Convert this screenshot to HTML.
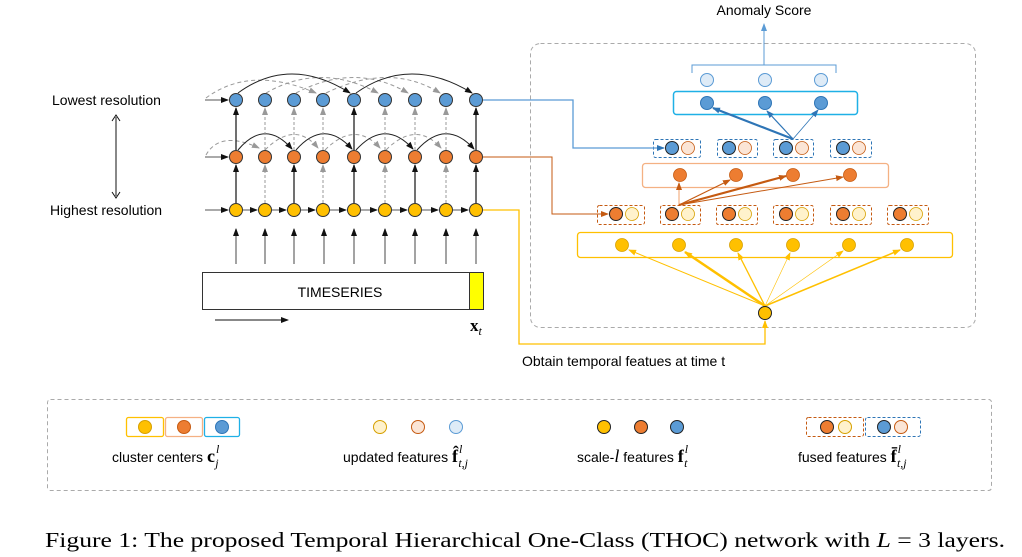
<!DOCTYPE html>
<html><head><meta charset="utf-8"><style>
html,body{margin:0;padding:0;background:#fff}
svg{display:block}
</style></head><body>
<svg width="1022" height="557" viewBox="0 0 1022 557" xmlns="http://www.w3.org/2000/svg" font-family="Liberation Sans, sans-serif">
<defs>
<marker id="ak" markerWidth="8" markerHeight="8" refX="7" refY="4" orient="auto" markerUnits="userSpaceOnUse"><path d="M0,1 L8,4 L0,7z" fill="#111"/></marker>
<marker id="ag" markerWidth="8" markerHeight="8" refX="7" refY="4" orient="auto" markerUnits="userSpaceOnUse"><path d="M0,1 L8,4 L0,7z" fill="#999"/></marker>
<marker id="ab" markerWidth="8" markerHeight="8" refX="7" refY="4" orient="auto" markerUnits="userSpaceOnUse"><path d="M0,1 L8,4 L0,7z" fill="#2e75b6"/></marker>
<marker id="ao" markerWidth="8" markerHeight="8" refX="7" refY="4" orient="auto" markerUnits="userSpaceOnUse"><path d="M0,1 L8,4 L0,7z" fill="#c55a11"/></marker>
<marker id="ay" markerWidth="8" markerHeight="8" refX="7" refY="4" orient="auto" markerUnits="userSpaceOnUse"><path d="M0,1 L8,4 L0,7z" fill="#ffc000"/></marker>
<marker id="al" markerWidth="8" markerHeight="8" refX="7" refY="4" orient="auto" markerUnits="userSpaceOnUse"><path d="M0,1 L8,4 L0,7z" fill="#5b9bd5"/></marker>
</defs>

<text x="52" y="105" font-size="14">Lowest resolution</text>
<text x="50" y="215" font-size="14">Highest resolution</text>
<line x1="116" y1="117" x2="116" y2="196" stroke="#111" stroke-width="1"/>
<path d="M112,121 L116,115 L120,121 M112,192 L116,198 L120,192" fill="none" stroke="#111" stroke-width="1"/>

<g stroke="#555" stroke-width="1" marker-end="url(#ak)">
<line x1="205" y1="100" x2="228" y2="100"/>
<line x1="205" y1="157" x2="228" y2="157"/>
<line x1="205" y1="210" x2="228" y2="210"/>
</g>

<g fill="none" stroke="#999" stroke-width="1" stroke-dasharray="4,3" marker-end="url(#ag)">
<path d="M206,155 Q220,130 259,148"/>
<path d="M265,150 Q295,120 318,148"/>
<path d="M325,150 Q355,120 380,148"/>
<path d="M386,150 Q416,120 441,148"/>
</g>
<g fill="none" stroke="#222" stroke-width="1" marker-end="url(#ak)">
<path d="M238,150 Q265,118 292,149"/>
<path d="M296,150 Q324,118 352,149"/>
<path d="M356,150 Q385,118 413,149"/>
<path d="M417,150 Q446,118 474,149"/>
</g>
<g fill="none" stroke="#999" stroke-width="1" stroke-dasharray="4,3" marker-end="url(#ag)">
<path d="M206,98 Q250,65 316,93"/>
<path d="M266,93 Q320,62 378,93"/>
<path d="M296,93 Q355,62 408,93"/>
<path d="M326,93 Q390,62 440,93"/>
</g>
<g fill="none" stroke="#222" stroke-width="1" marker-end="url(#ak)">
<path d="M238,93 Q290,55 350,93"/>
<path d="M356,93 Q410,55 472,93"/>
</g>

<g stroke="#111" stroke-width="1.2" marker-end="url(#ak)">
<line x1="236" y1="203" x2="236" y2="165"/><line x1="294" y1="203" x2="294" y2="165"/>
<line x1="354" y1="203" x2="354" y2="165"/><line x1="415" y1="203" x2="415" y2="165"/>
<line x1="476" y1="203" x2="476" y2="165"/>
<line x1="236" y1="150" x2="236" y2="108"/><line x1="354" y1="150" x2="354" y2="108"/>
<line x1="476" y1="150" x2="476" y2="108"/>
</g>
<g stroke="#999" stroke-width="1" stroke-dasharray="3,2" marker-end="url(#ag)">
<line x1="265" y1="203" x2="265" y2="165"/><line x1="323" y1="203" x2="323" y2="165"/>
<line x1="385" y1="203" x2="385" y2="165"/><line x1="446" y1="203" x2="446" y2="165"/>
<line x1="265" y1="150" x2="265" y2="108"/><line x1="294" y1="150" x2="294" y2="108"/>
<line x1="323" y1="150" x2="323" y2="108"/><line x1="385" y1="150" x2="385" y2="108"/>
<line x1="415" y1="150" x2="415" y2="108"/><line x1="446" y1="150" x2="446" y2="108"/>
</g>
<g stroke="#555" stroke-width="1" marker-end="url(#ak)">
<line x1="243" y1="210" x2="257" y2="210"/><line x1="272" y1="210" x2="286" y2="210"/>
<line x1="301" y1="210" x2="315" y2="210"/><line x1="330" y1="210" x2="346" y2="210"/>
<line x1="361" y1="210" x2="377" y2="210"/><line x1="392" y1="210" x2="407" y2="210"/>
<line x1="422" y1="210" x2="438" y2="210"/><line x1="453" y1="210" x2="468" y2="210"/>
</g>
<g stroke="#666" stroke-width="1.2" marker-end="url(#ak)">
<line x1="236" y1="264" x2="236" y2="229"/><line x1="265" y1="264" x2="265" y2="229"/>
<line x1="294" y1="264" x2="294" y2="229"/><line x1="324" y1="264" x2="324" y2="229"/>
<line x1="354" y1="264" x2="354" y2="229"/><line x1="385" y1="264" x2="385" y2="229"/>
<line x1="415" y1="264" x2="415" y2="229"/><line x1="446" y1="264" x2="446" y2="229"/>
<line x1="476" y1="264" x2="476" y2="229"/>
</g>

<g stroke="#333" stroke-width="1">
<g fill="#5b9bd5">
<circle cx="236" cy="100" r="6.5"/><circle cx="265" cy="100" r="6.5"/><circle cx="294" cy="100" r="6.5"/><circle cx="323" cy="100" r="6.5"/><circle cx="354" cy="100" r="6.5"/><circle cx="385" cy="100" r="6.5"/><circle cx="415" cy="100" r="6.5"/><circle cx="446" cy="100" r="6.5"/><circle cx="476" cy="100" r="6.5"/>
</g>
<g fill="#ed7d31">
<circle cx="236" cy="157" r="6.5"/><circle cx="265" cy="157" r="6.5"/><circle cx="294" cy="157" r="6.5"/><circle cx="323" cy="157" r="6.5"/><circle cx="354" cy="157" r="6.5"/><circle cx="385" cy="157" r="6.5"/><circle cx="415" cy="157" r="6.5"/><circle cx="446" cy="157" r="6.5"/><circle cx="476" cy="157" r="6.5"/>
</g>
<g fill="#ffc000">
<circle cx="236" cy="210" r="6.5"/><circle cx="265" cy="210" r="6.5"/><circle cx="294" cy="210" r="6.5"/><circle cx="323" cy="210" r="6.5"/><circle cx="354" cy="210" r="6.5"/><circle cx="385" cy="210" r="6.5"/><circle cx="415" cy="210" r="6.5"/><circle cx="446" cy="210" r="6.5"/><circle cx="476" cy="210" r="6.5"/>
</g>
</g>

<rect x="202.5" y="272.5" width="281" height="37" fill="#fff" stroke="#333"/>
<rect x="469.5" y="272.5" width="14" height="37" fill="#ffff00" stroke="#333"/>
<text x="340" y="297" font-size="14" text-anchor="middle">TIMESERIES</text>
<line x1="215" y1="320" x2="288" y2="320" stroke="#111" marker-end="url(#ak)"/>
<text x="470" y="331" font-family="Liberation Serif, serif" font-size="17" font-weight="bold">x<tspan font-weight="normal" font-style="italic" font-size="12" dy="4">t</tspan></text>

<rect x="530.5" y="43.5" width="445" height="284" rx="10" fill="none" stroke="#aaa" stroke-dasharray="4,3"/>
<text x="764" y="15" font-size="14" text-anchor="middle">Anomaly Score</text>
<line x1="764" y1="65" x2="764" y2="24" stroke="#5b9bd5" marker-end="url(#al)"/>
<path d="M692,73 L692,65 L836,65 L836,73" fill="none" stroke="#5b9bd5"/>

<g stroke="#5b9bd5" fill="#deebf7"><circle cx="707" cy="80" r="6.5"/><circle cx="765" cy="80" r="6.5"/><circle cx="821" cy="80" r="6.5"/></g>
<rect x="673.5" y="91.5" width="184" height="23" rx="3" fill="none" stroke="#1fb0e6" stroke-width="1.5"/>
<g stroke="#2e75b6" fill="#5b9bd5"><circle cx="707" cy="103" r="6.5"/><circle cx="765" cy="103" r="6.5"/><circle cx="821" cy="103" r="6.5"/></g>
<g stroke="#2e75b6" marker-end="url(#ab)">
<line x1="793" y1="139" x2="713" y2="108" stroke-width="2.2"/>
<line x1="793" y1="139" x2="767" y2="111" stroke-width="1.2"/>
<line x1="793" y1="139" x2="818" y2="110" stroke-width="0.8"/>
</g>

<g fill="none" stroke="#2e75b6" stroke-dasharray="3,2">
<rect x="653.5" y="139.5" width="47" height="18" rx="2"/><rect x="717.5" y="139.5" width="40" height="18" rx="2"/>
<rect x="773.5" y="139.5" width="40" height="18" rx="2"/><rect x="830.5" y="139.5" width="41" height="18" rx="2"/>
</g>
<g stroke="#222" fill="#5b9bd5"><circle cx="672" cy="148" r="6.5"/><circle cx="729" cy="148" r="6.5"/><circle cx="786" cy="148" r="6.5"/><circle cx="843" cy="148" r="6.5"/></g>
<g stroke="#c55a11" fill="#fbe5d6" stroke-width="0.8"><circle cx="688" cy="148" r="6.5"/><circle cx="745" cy="148" r="6.5"/><circle cx="802" cy="148" r="6.5"/><circle cx="859" cy="148" r="6.5"/></g>

<rect x="642.5" y="163.5" width="246" height="24" rx="3" fill="none" stroke="#f4b183" stroke-width="1.3"/>
<g stroke="#c55a11" fill="#ed7d31" stroke-width="0.8"><circle cx="680" cy="175" r="6.5"/><circle cx="736" cy="175" r="6.5"/><circle cx="793" cy="175" r="6.5"/><circle cx="850" cy="175" r="6.5"/></g>
<g stroke="#c55a11">
<line x1="679" y1="205" x2="679" y2="183" stroke="#f4b183" stroke-width="1.2" marker-end="url(#ao)"/>
<line x1="679" y1="205" x2="730" y2="180" stroke-width="1.2" marker-end="url(#ao)"/>
<line x1="679" y1="205" x2="786" y2="176" stroke-width="2.2" marker-end="url(#ao)"/>
<line x1="679" y1="205" x2="843" y2="177" stroke-width="1" marker-end="url(#ao)"/>
</g>

<g fill="none" stroke="#c55a11" stroke-dasharray="3,2">
<rect x="597.5" y="205.5" width="47" height="19" rx="2"/><rect x="660.5" y="205.5" width="40" height="19" rx="2"/>
<rect x="716.5" y="205.5" width="41" height="19" rx="2"/><rect x="773.5" y="205.5" width="40" height="19" rx="2"/>
<rect x="830.5" y="205.5" width="41" height="19" rx="2"/><rect x="887.5" y="205.5" width="41" height="19" rx="2"/>
</g>
<g stroke="#222" fill="#ed7d31"><circle cx="616" cy="214" r="6.5"/><circle cx="672" cy="214" r="6.5"/><circle cx="729" cy="214" r="6.5"/><circle cx="786" cy="214" r="6.5"/><circle cx="843" cy="214" r="6.5"/><circle cx="900" cy="214" r="6.5"/></g>
<g stroke="#d6a000" fill="#fff2cc" stroke-width="0.8"><circle cx="632" cy="214" r="6.5"/><circle cx="688" cy="214" r="6.5"/><circle cx="745" cy="214" r="6.5"/><circle cx="802" cy="214" r="6.5"/><circle cx="859" cy="214" r="6.5"/><circle cx="916" cy="214" r="6.5"/></g>

<rect x="577.5" y="232.5" width="375" height="25" rx="3" fill="none" stroke="#ffc000" stroke-width="1.3"/>
<g stroke="#d6a000" fill="#ffc000" stroke-width="0.8"><circle cx="622" cy="245" r="6.5"/><circle cx="679" cy="245" r="6.5"/><circle cx="736" cy="245" r="6.5"/><circle cx="793" cy="245" r="6.5"/><circle cx="849" cy="245" r="6.5"/><circle cx="907" cy="245" r="6.5"/></g>
<g stroke="#ffc000">
<line x1="765" y1="306" x2="629" y2="250" stroke-width="1" marker-end="url(#ay)"/>
<line x1="765" y1="306" x2="685" y2="252" stroke-width="2.5" marker-end="url(#ay)"/>
<line x1="765" y1="306" x2="738" y2="253" stroke-width="1.3" marker-end="url(#ay)"/>
<line x1="765" y1="306" x2="790" y2="253" stroke-width="0.6" marker-end="url(#ay)"/>
<line x1="765" y1="306" x2="843" y2="251" stroke-width="0.6" marker-end="url(#ay)"/>
<line x1="765" y1="306" x2="900" y2="250" stroke-width="1.5" marker-end="url(#ay)"/>
</g>
<circle cx="765" cy="313" r="6.5" fill="#ffc000" stroke="#222"/>

<polyline points="483,100 573,100 573,148 664,148" fill="none" stroke="#5b9bd5" stroke-width="1.3" marker-end="url(#ab)"/>
<polyline points="483,157 552,157 552,214 608,214" fill="none" stroke="#c55a11" stroke-width="1" marker-end="url(#ao)"/>
<polyline points="483,210 519,210 519,344 765,344 765,321" fill="none" stroke="#ffc000" stroke-width="1.3" marker-end="url(#ay)"/>
<text x="522" y="366" font-size="14">Obtain temporal featues at time t</text>

<rect x="47.5" y="399.5" width="944" height="91" rx="3" fill="none" stroke="#aaa" stroke-dasharray="4,3"/>
<rect x="126.5" y="417.5" width="37" height="19" rx="2" fill="none" stroke="#ffc000" stroke-width="1.3"/>
<rect x="165.5" y="417.5" width="37" height="19" rx="2" fill="none" stroke="#f4b183" stroke-width="1.3"/>
<rect x="204.5" y="417.5" width="35" height="19" rx="2" fill="none" stroke="#1fb0e6" stroke-width="1.3"/>
<circle cx="145" cy="427" r="6.5" fill="#ffc000" stroke="#d6a000"/>
<circle cx="184" cy="427" r="6.5" fill="#ed7d31" stroke="#c55a11"/>
<circle cx="222" cy="427" r="6.5" fill="#5b9bd5" stroke="#2e75b6"/>
<text x="112" y="462" font-size="14">cluster centers <tspan font-family="Liberation Serif, serif" font-weight="bold" font-size="18">c</tspan><tspan font-family="Liberation Serif, serif" font-style="italic" font-size="12" dx="1" dy="-9">l</tspan><tspan font-family="Liberation Serif, serif" font-style="italic" font-size="12" dx="-4" dy="14">j</tspan></text>

<circle cx="380" cy="427" r="6.5" fill="#fff2cc" stroke="#d6a000"/>
<circle cx="418" cy="427" r="6.5" fill="#fbe5d6" stroke="#c55a11"/>
<circle cx="456" cy="427" r="6.5" fill="#deebf7" stroke="#5b9bd5"/>
<text x="343" y="462" font-size="14">updated features <tspan font-family="Liberation Serif, serif" font-weight="bold" font-size="18">f̂</tspan><tspan font-family="Liberation Serif, serif" font-style="italic" font-size="12" dx="1" dy="-9">l</tspan><tspan font-family="Liberation Serif, serif" font-style="italic" font-size="12" dx="-4" dy="14">t,j</tspan></text>

<circle cx="604" cy="427" r="6.5" fill="#ffc000" stroke="#222"/>
<circle cx="641" cy="427" r="6.5" fill="#ed7d31" stroke="#222"/>
<circle cx="677" cy="427" r="6.5" fill="#5b9bd5" stroke="#222"/>
<text x="577" y="462" font-size="14">scale-<tspan font-family="Liberation Serif, serif" font-style="italic" font-size="18">l</tspan> features <tspan font-family="Liberation Serif, serif" font-weight="bold" font-size="18">f</tspan><tspan font-family="Liberation Serif, serif" font-style="italic" font-size="12" dx="1" dy="-9">l</tspan><tspan font-family="Liberation Serif, serif" font-style="italic" font-size="12" dx="-4" dy="14">t</tspan></text>

<rect x="806.5" y="417.5" width="57" height="19" rx="2" fill="none" stroke="#c55a11" stroke-dasharray="3,2"/>
<rect x="865.5" y="417.5" width="55" height="19" rx="2" fill="none" stroke="#2e75b6" stroke-dasharray="3,2"/>
<circle cx="827" cy="427" r="6.5" fill="#ed7d31" stroke="#222"/>
<circle cx="845" cy="427" r="6.5" fill="#fff2cc" stroke="#d6a000"/>
<circle cx="884" cy="427" r="6.5" fill="#5b9bd5" stroke="#222"/>
<circle cx="901" cy="427" r="6.5" fill="#fbe5d6" stroke="#c55a11"/>
<text x="798" y="462" font-size="14">fused features  <tspan font-family="Liberation Serif, serif" font-weight="bold" font-size="18">f̄</tspan><tspan font-family="Liberation Serif, serif" font-style="italic" font-size="12" dx="1" dy="-9">l</tspan><tspan font-family="Liberation Serif, serif" font-style="italic" font-size="12" dx="-4" dy="14">t,j</tspan></text>

<text x="45" y="547" font-family="Liberation Serif, serif" font-size="21" textLength="960" lengthAdjust="spacingAndGlyphs">Figure 1: The proposed Temporal Hierarchical One-Class (THOC) network with <tspan font-style="italic">L</tspan> = 3 layers.</text>
</svg>
</body></html>
